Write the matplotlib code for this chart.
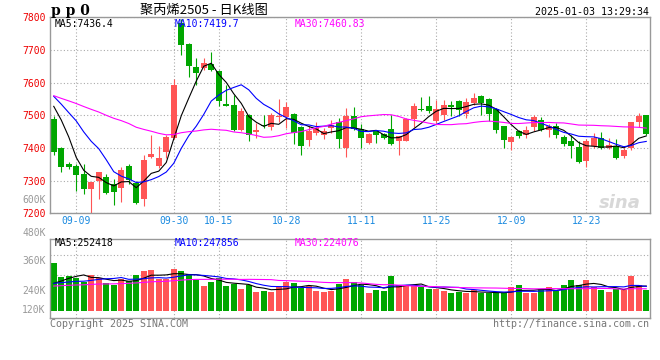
import numpy as np
import matplotlib
matplotlib.use('Agg')
import matplotlib.pyplot as plt
from matplotlib.transforms import blended_transform_factory

# ---------------------------------------------------------------
# ** DATA **

dates = ['09-04', '09-05', '09-06', '09-09', '09-10', '09-11', '09-12', '09-13', '09-18', '09-19',
         '09-20', '09-23', '09-24', '09-25', '09-26', '09-27', '09-30', '10-08', '10-09', '10-10',
         '10-11', '10-14', '10-15', '10-16', '10-17', '10-18', '10-21', '10-22', '10-23', '10-24',
         '10-25', '10-28', '10-29', '10-30', '10-31', '11-01', '11-04', '11-05', '11-06', '11-07',
         '11-08', '11-11', '11-12', '11-13', '11-14', '11-15', '11-18', '11-19', '11-20', '11-21',
         '11-22', '11-25', '11-26', '11-27', '11-28', '11-29', '12-02', '12-03', '12-04', '12-05',
         '12-06', '12-09', '12-10', '12-11', '12-12', '12-13', '12-16', '12-17', '12-18', '12-19',
         '12-20', '12-23', '12-24', '12-25', '12-26', '12-27', '12-30', '12-31', '01-02', '01-03']

open_ = [7488, 7400, 7352, 7344, 7320, 7273, 7299, 7310, 7289, 7278,
         7346, 7294, 7243, 7373, 7344, 7387, 7431, 7782, 7718, 7648,
         7644, 7656, 7637, 7535, 7532, 7454, 7502, 7450, 7470, 7463,
         7495, 7494, 7505, 7463, 7424, 7446, 7441, 7461, 7481, 7400,
         7499, 7457, 7416, 7452, 7442, 7458, 7422, 7422, 7488, 7520,
         7529, 7484, 7502, 7532, 7544, 7504, 7539, 7560, 7550, 7519,
         7466, 7417, 7451, 7441, 7463, 7486, 7454, 7468, 7434, 7421,
         7402, 7360, 7405, 7431, 7400, 7407, 7375, 7400, 7478, 7500]
high = [7497, 7403, 7358, 7350, 7350, 7297, 7327, 7319, 7304, 7341,
        7350, 7300, 7377, 7441, 7407, 7441, 7610, 7795, 7722, 7674,
        7674, 7695, 7640, 7593, 7562, 7522, 7505, 7476, 7502, 7507,
        7550, 7542, 7508, 7468, 7468, 7481, 7461, 7486, 7492, 7521,
        7524, 7472, 7446, 7456, 7446, 7500, 7438, 7492, 7537, 7555,
        7558, 7547, 7547, 7544, 7547, 7552, 7568, 7563, 7552, 7522,
        7468, 7436, 7456, 7466, 7502, 7494, 7473, 7476, 7441, 7441,
        7421, 7428, 7446, 7448, 7431, 7426, 7400, 7481, 7507, 7502]
low = [7380, 7326, 7335, 7268, 7258, 7202, 7243, 7258, 7226, 7235,
       7289, 7228, 7223, 7370, 7339, 7370, 7426, 7686, 7618, 7593,
       7638, 7635, 7529, 7527, 7451, 7451, 7421, 7429, 7461, 7456,
       7481, 7461, 7413, 7380, 7405, 7441, 7426, 7446, 7400, 7372,
       7455, 7401, 7413, 7416, 7427, 7409, 7380, 7420, 7463, 7512,
       7507, 7476, 7486, 7497, 7497, 7492, 7532, 7502, 7484, 7446,
       7400, 7393, 7429, 7431, 7451, 7453, 7434, 7431, 7407, 7370,
       7353, 7342, 7400, 7398, 7398, 7367, 7370, 7395, 7464, 7441]
close = [7387, 7341, 7341, 7316, 7273, 7295, 7325, 7261, 7265, 7334,
         7301, 7231, 7362, 7383, 7368, 7433, 7593, 7716, 7652, 7629,
         7661, 7639, 7545, 7529, 7456, 7514, 7439, 7456, 7466, 7502,
         7499, 7525, 7446, 7407, 7452, 7462, 7453, 7471, 7426, 7499,
         7458, 7432, 7442, 7439, 7430, 7411, 7437, 7488, 7528, 7515,
         7512, 7519, 7532, 7525, 7517, 7541, 7553, 7539, 7505, 7455,
         7425, 7433, 7438, 7456, 7494, 7456, 7468, 7439, 7413, 7405,
         7357, 7420, 7431, 7400, 7408, 7370, 7395, 7478, 7497, 7444]

# volume, thousands of lots
volume = [488, 347, 357, 333, 296, 364, 333, 279, 263, 320,
          306, 364, 404, 414, 320, 320, 424, 404, 374, 313,
          253, 296, 330, 253, 273, 222, 263, 192, 205, 192,
          239, 290, 279, 229, 253, 202, 192, 205, 269, 323,
          293, 263, 185, 212, 205, 354, 263, 253, 253, 239,
          219, 219, 205, 185, 195, 185, 212, 178, 178, 178,
          178, 239, 263, 185, 185, 219, 239, 205, 263, 313,
          263, 313, 239, 212, 190, 224, 212, 354, 258, 214]

# sessions before the window, only feed the moving averages
hist_close = [7585, 7572, 7560, 7548, 7555, 7570, 7562, 7540, 7548, 7566,
              7575, 7558, 7552, 7560, 7571, 7565, 7550, 7556, 7568, 7559,
              7580, 7600, 7570, 7610, 7583, 7550, 7600, 7630, 7470]
hist_volume = [245, 230, 236, 250, 228, 241, 233, 247, 239, 226,
               244, 238, 232, 249, 240, 235, 243, 229, 237, 248,
               275, 290, 268, 282, 280, 230, 220, 232, 225]

tick_dates = ['09-09', '09-30', '10-15', '10-28', '11-11', '11-25', '12-09', '12-23']
price_levels = [7200, 7300, 7400, 7500, 7600, 7700, 7800]
vol_labels = ['480K', '360K', '240K', '120K']

price_ma_text = ['MA5:7436.4', 'MA10:7419.7', 'MA30:7460.83']
vol_ma_text = ['MA5:252418', 'MA10:247856', 'MA30:224076']

# ---------------------------------------------------------------
# ** STYLE **

RED = '#ff5555'
GREEN = '#00a600'
MA_COLORS = ['black', '#0000ff', '#ff00ff']
MA_WINDOWS = [5, 10, 30]
GRID_KW = dict(color='#aaaaaa', linestyle=(0, (1, 2)), linewidth=0.8)
MONO = 'DejaVu Sans Mono'
W, H = 660, 360


def moving_average(hist, values, n):
    s = np.array(list(hist) + list(values), dtype=float)
    ma = np.convolve(s, np.ones(n) / n, mode='valid')
    return ma[-len(values):]


def style_axes(ax):
    for sp in ax.spines.values():
        sp.set_color('#999999')
        sp.set_linewidth(1.0)
    ax.tick_params(length=0)


# ---------------------------------------------------------------
# ** MAIN **

x = np.arange(len(dates))
o, h, l, c = (np.array(a, dtype=float) for a in (open_, high, low, close))
v = np.array(volume, dtype=float) * 1000
up = c >= o
colors = np.where(up, RED, GREEN)
ticks = [dates.index(d) for d in tick_dates]

fig = plt.figure(figsize=(W / 100, H / 100), dpi=100)

# price panel
ax1 = fig.add_axes([50 / W, (H - 213.3) / H, 600 / W, 196 / H])
style_axes(ax1)
ax1.vlines(x, l, h, colors=colors, linewidth=0.8)
ax1.bar(x, np.maximum(np.abs(c - o), 1.5), bottom=np.minimum(o, c),
        width=0.8, color=colors, linewidth=0)
for n, col in zip(MA_WINDOWS, MA_COLORS):
    ax1.plot(x, moving_average(hist_close, close, n), color=col, linewidth=0.8)

ax1.set_xlim(-0.5, len(dates) - 0.5)
ax1.set_ylim(price_levels[0], price_levels[-1])
ax1.set_yticks(price_levels)
ax1.set_yticklabels([str(p) for p in price_levels], family=MONO, fontsize=7, color='#ee0000')
ax1.set_xticks(ticks)
ax1.set_xticklabels(tick_dates, family=MONO, fontsize=7, color='#1a8ae0')
ax1.tick_params(axis='y', pad=3)
ax1.tick_params(axis='x', pad=2)
ax1.grid(True, **GRID_KW)
ax1.set_axisbelow(True)

for i, (txt, col) in enumerate(zip(price_ma_text, MA_COLORS)):
    ax1.text(0.008 + 0.2 * i, 0.966, txt, transform=ax1.transAxes, family=MONO,
             fontsize=7, color=col, va='center', ha='left')
ax1.text(-0.007, 0.068, '600K', transform=ax1.transAxes, family=MONO,
         fontsize=7, color='#999999', va='center', ha='right')
ax1.text(0.985, 0.055, 'sina', transform=ax1.transAxes, fontsize=13,
         fontweight='bold', style='italic', color='#d8d8d8', ha='right', va='center')

# volume panel
ax2 = fig.add_axes([50 / W, (H - 318.3) / H, 600 / W, 79.8 / H])
style_axes(ax2)
ax2.bar(x, v, width=0.8, color=colors, linewidth=0)
for n, col in zip(MA_WINDOWS, MA_COLORS):
    ma = moving_average(np.array(hist_volume) * 1000, v, n)
    ax2.plot(x, ma, color=col, linewidth=0.8)
ax2.set_xlim(-0.5, len(dates) - 0.5)
ax2.set_ylim(-73700, 732000)
ax2.set_xticks(ticks)
ax2.set_xticklabels([])
ax2.set_yticks([])
ax2.grid(True, axis='x', **GRID_KW)
for yv in (562600, 360600):
    ax2.axhline(yv, zorder=0, **GRID_KW)
ax2.set_axisbelow(True)

for lab, fy in zip(vol_labels, [1.073, 0.722, 0.346, 0.100]):
    ax2.text(-0.007, fy, lab, transform=ax2.transAxes, family=MONO, fontsize=7,
             color='#999999', ha='right', va='center', clip_on=False)
for i, (txt, col) in enumerate(zip(vol_ma_text, MA_COLORS)):
    ax2.text(0.008 + 0.2 * i, 0.944, txt, transform=ax2.transAxes, family=MONO,
             fontsize=7, color=col, va='center', ha='left')

# header and footer
fig.text(51 / W, 1 - 11 / H, 'p p 0', family='DejaVu Serif', fontweight='bold',
         fontsize=10, ha='left', va='center')
fig.text(140 / W, 1 - 10.5 / H, '聚丙烯2505 - 日K线图', family=['Noto Sans CJK SC', 'DejaVu Sans'],
         fontsize=9.5, ha='left', va='center')
fig.text(649 / W, 1 - 12 / H, '2025-01-03 13:29:34', family=MONO, fontsize=7.2,
         ha='right', va='center')
fig.text(50 / W, 1 - 324 / H, 'Copyright 2025 SINA.COM', family=MONO, fontsize=7.2,
         color='#777777', ha='left', va='center')
fig.text(649 / W, 1 - 324 / H, 'http://finance.sina.com.cn', family=MONO, fontsize=7.2,
         color='#777777', ha='right', va='center')

fig.savefig('out.png', dpi=100)
